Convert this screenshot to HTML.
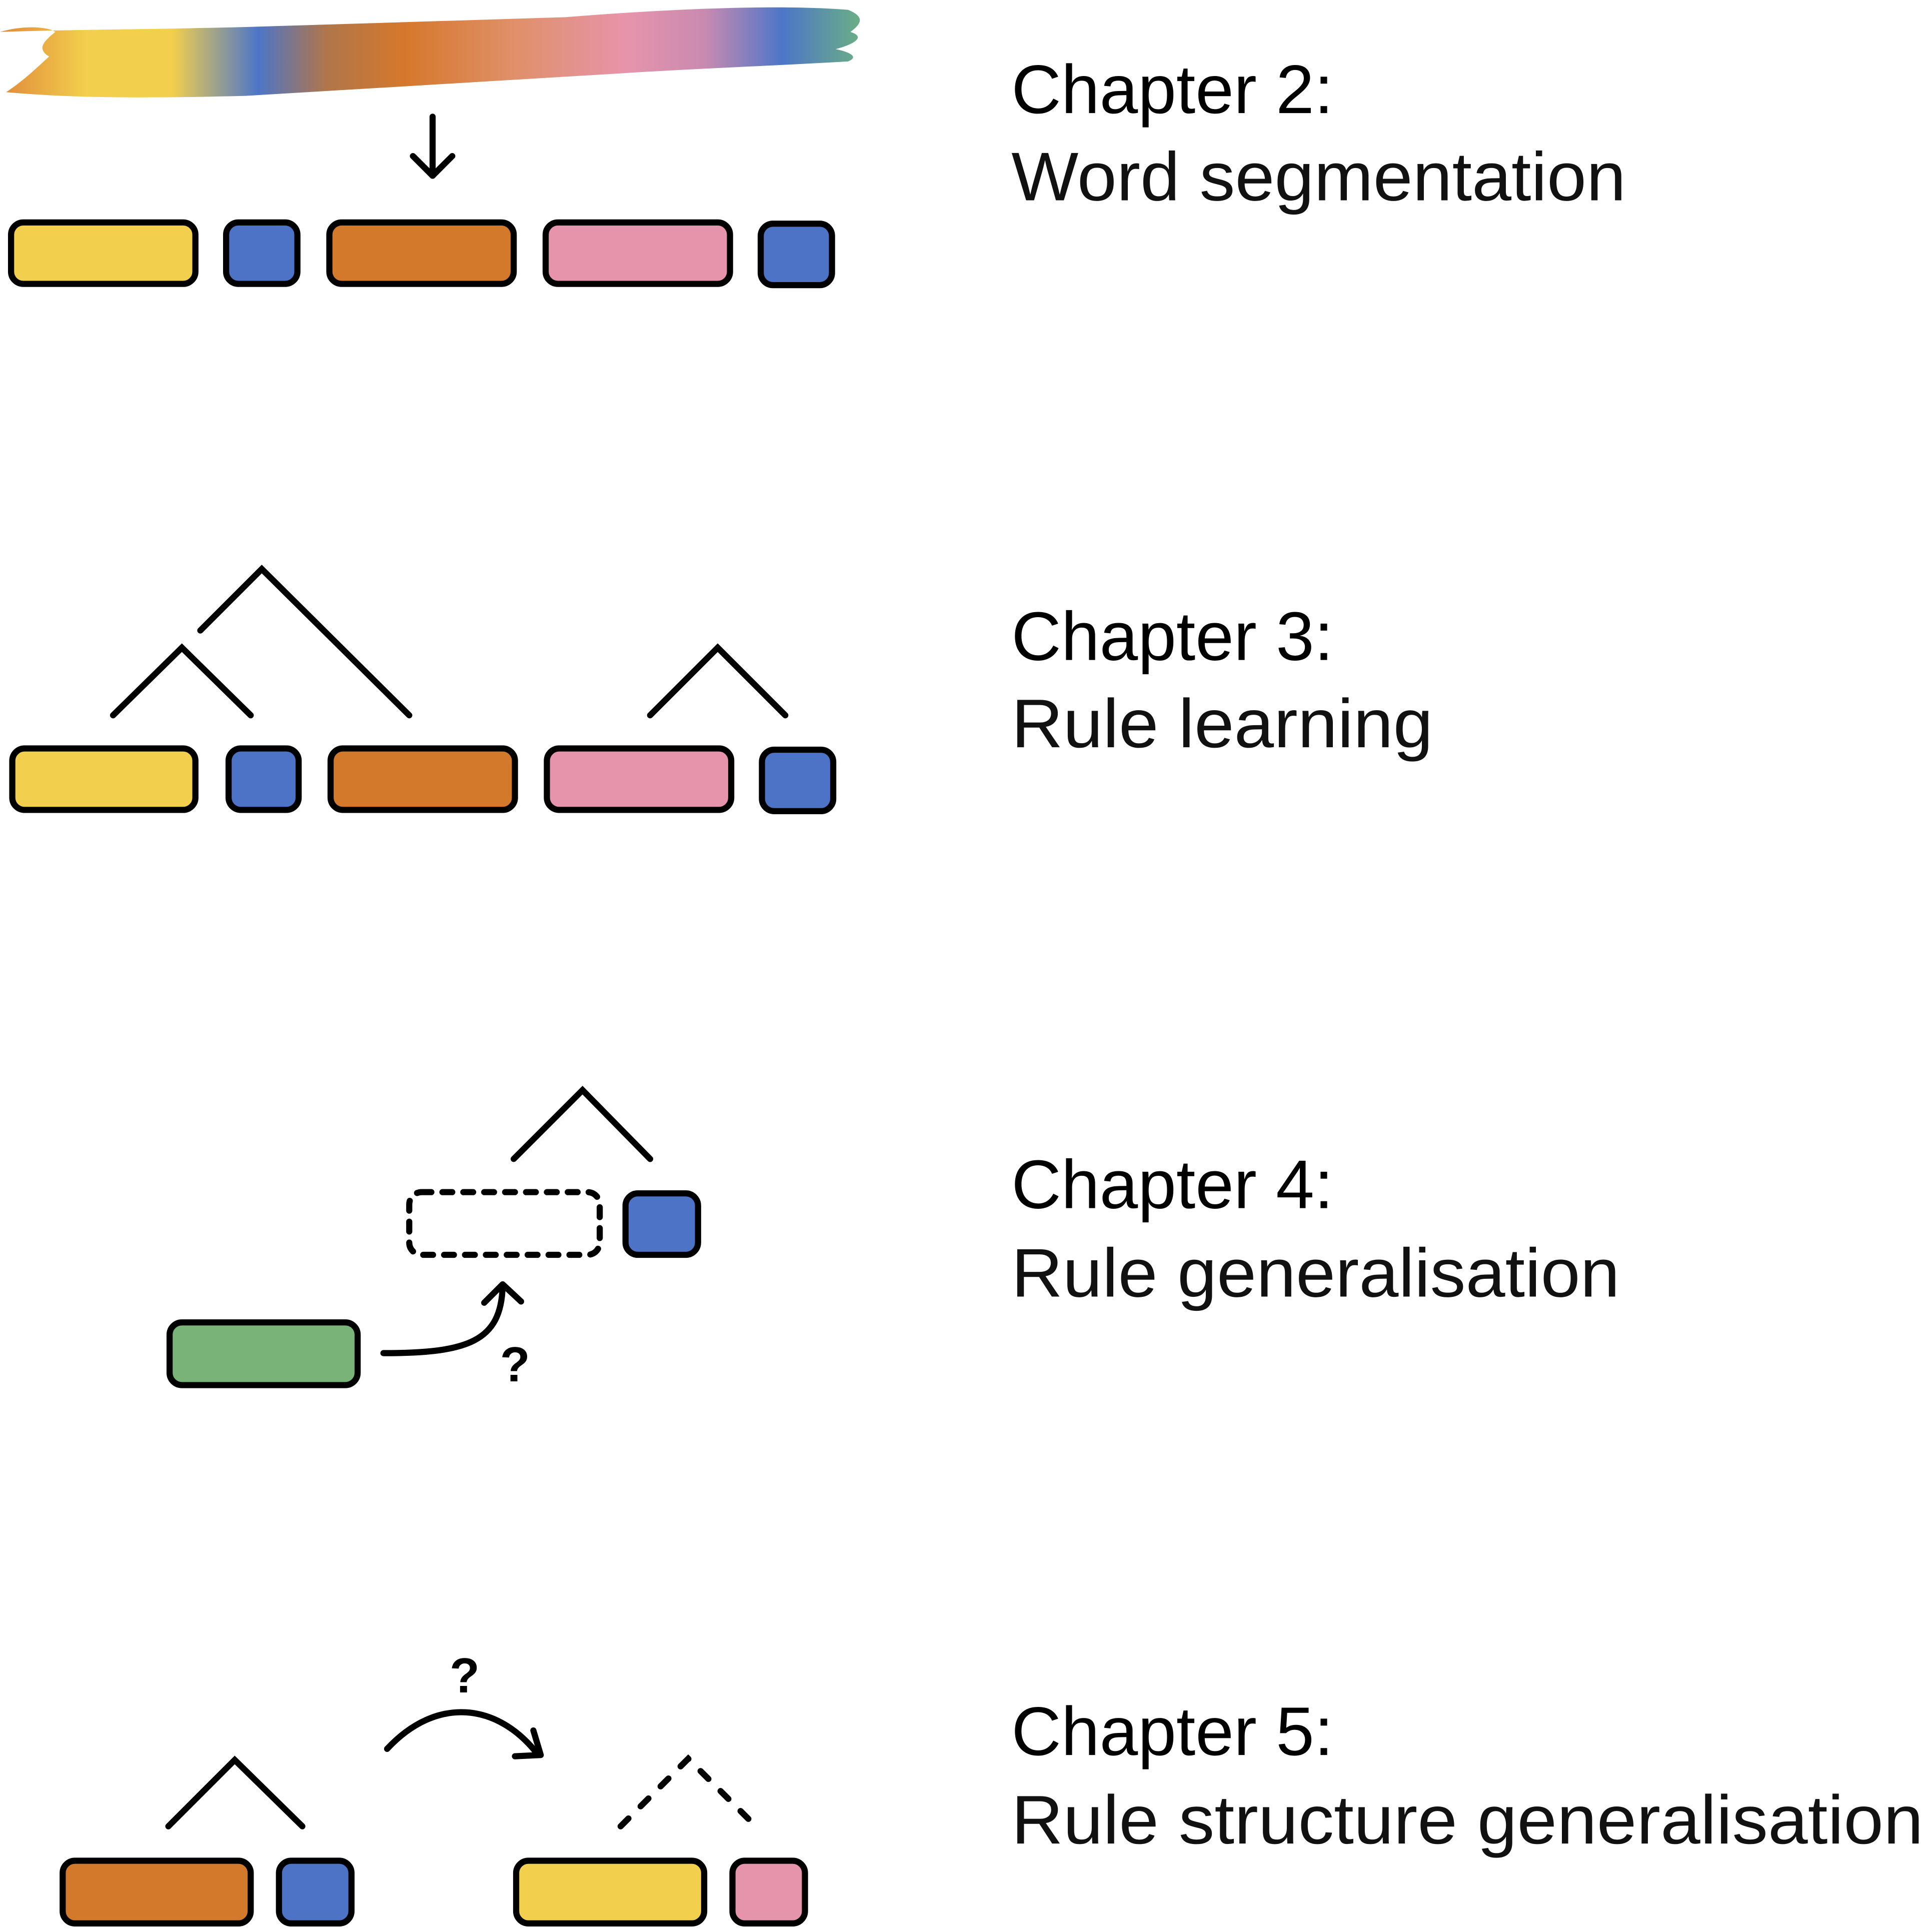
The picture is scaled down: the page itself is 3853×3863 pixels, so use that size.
<!DOCTYPE html>
<html><head><meta charset="utf-8">
<style>
html,body{margin:0;padding:0;background:#fff;}
svg{display:block;}
</style></head>
<body>
<svg width="3853" height="3863" viewBox="0 0 1568 1572" preserveAspectRatio="none" xmlns="http://www.w3.org/2000/svg">
<defs>
<linearGradient id="g" x1="0" y1="0" x2="1" y2="0">
<stop offset="0" stop-color="#e08a3a"/>
<stop offset="0.1" stop-color="#f2cf4c"/>
<stop offset="0.2" stop-color="#f2cf4c"/>
<stop offset="0.3" stop-color="#4d76c8"/>
<stop offset="0.38" stop-color="#b0764a"/>
<stop offset="0.47" stop-color="#d5782c"/>
<stop offset="0.6" stop-color="#e0906a"/>
<stop offset="0.73" stop-color="#e694ab"/>
<stop offset="0.82" stop-color="#c98ab0"/>
<stop offset="0.91" stop-color="#4d76c8"/>
<stop offset="1" stop-color="#6aae86"/>
</linearGradient>
</defs>
<path d="M0,26 C20,20 40,22 45,26 C35,34 30,40 40,46 C30,55 20,65 5,75 C60,80 120,80 200,78 L500,60 C560,56 620,54 690,50 C700,46 690,42 680,40 C695,36 705,30 692,26 C700,20 705,14 690,8 C640,4 560,6 460,14 L200,22 C120,24 60,24 0,26 Z" fill="url(#g)"/>
<g stroke="#000" stroke-width="5" fill="none" stroke-linecap="round" stroke-linejoin="round">
<line x1="352" y1="95" x2="352" y2="143"/>
<polyline points="336,127 352,143 368,127"/>
</g>
<g stroke="#000" stroke-width="5" stroke-linejoin="round">
<rect x="9" y="181" width="150" height="50" rx="10" fill="#f2cf4c"/>
<rect x="184" y="181" width="58" height="50" rx="10" fill="#4d73c6"/>
<rect x="268" y="181" width="150" height="50" rx="10" fill="#d3792c"/>
<rect x="444" y="181" width="150" height="50" rx="10" fill="#e694ab"/>
<rect x="619" y="182" width="58" height="50" rx="10" fill="#4d73c6"/>

<rect x="10" y="609" width="149" height="50" rx="10" fill="#f2cf4c"/>
<rect x="186" y="609" width="57" height="50" rx="10" fill="#4d73c6"/>
<rect x="269" y="609" width="150" height="50" rx="10" fill="#d3792c"/>
<rect x="445" y="609" width="150" height="50" rx="10" fill="#e694ab"/>
<rect x="620" y="610" width="58" height="50" rx="10" fill="#4d73c6"/>

<rect x="509" y="971" width="59" height="50" rx="10" fill="#4d73c6"/>
<rect x="138" y="1076" width="153" height="51" rx="10" fill="#79b377"/>

<rect x="51" y="1514" width="153" height="51" rx="10" fill="#d3792c"/>
<rect x="227" y="1514" width="59" height="51" rx="10" fill="#4d73c6"/>
<rect x="420" y="1514" width="153" height="51" rx="10" fill="#f2cf4c"/>
<rect x="596" y="1514" width="59" height="51" rx="10" fill="#e694ab"/>
</g>
<g stroke="#000" stroke-width="5" fill="none" stroke-linecap="round" stroke-linejoin="miter">
<polyline points="163,513 213,463 333,582"/>
<polyline points="92,582 148,527 204,582"/>
<polyline points="529,582 584,527 639,582"/>
<polyline points="418,943 474,887 529,943"/>
<rect x="333" y="970" width="155" height="51" rx="10" stroke-dasharray="8,9"/>
<path d="M312,1101 C380,1101 408,1092 409,1046" stroke-linejoin="round"/>
<polyline points="394,1060 409,1045 424,1059" stroke-linejoin="round"/>
<polyline points="137,1486 191,1432 246,1486"/>
<polyline points="505,1486 560,1431 615,1486" stroke-dasharray="9,14"/>
<path d="M315,1423 C355,1380 405,1385 438,1428" stroke-linejoin="round"/>
<polyline points="434,1408 440,1428 419,1429" stroke-linejoin="round"/>
</g>
<g font-family="Liberation Sans, sans-serif" font-weight="bold" font-size="40" fill="#000" text-anchor="middle">
<text x="419" y="1124">?</text>
<text x="378" y="1377">?</text>
</g>
<g font-family="Liberation Sans, sans-serif" font-size="56" fill="#000">
<text x="823" y="92" textLength="262" lengthAdjust="spacingAndGlyphs">Chapter 2:</text>
<text x="823" y="163" textLength="500" lengthAdjust="spacingAndGlyphs" fill="#111">Word segmentation</text>
<text x="823" y="537" textLength="262" lengthAdjust="spacingAndGlyphs">Chapter 3:</text>
<text x="823" y="608" textLength="343" lengthAdjust="spacingAndGlyphs" fill="#111">Rule learning</text>
<text x="823" y="983" textLength="262" lengthAdjust="spacingAndGlyphs">Chapter 4:</text>
<text x="823" y="1055" textLength="495" lengthAdjust="spacingAndGlyphs" fill="#111">Rule generalisation</text>
<text x="823" y="1428" textLength="262" lengthAdjust="spacingAndGlyphs">Chapter 5:</text>
<text x="823" y="1500" textLength="742" lengthAdjust="spacingAndGlyphs" fill="#111">Rule structure generalisation</text>
</g>
</svg>
</body></html>
